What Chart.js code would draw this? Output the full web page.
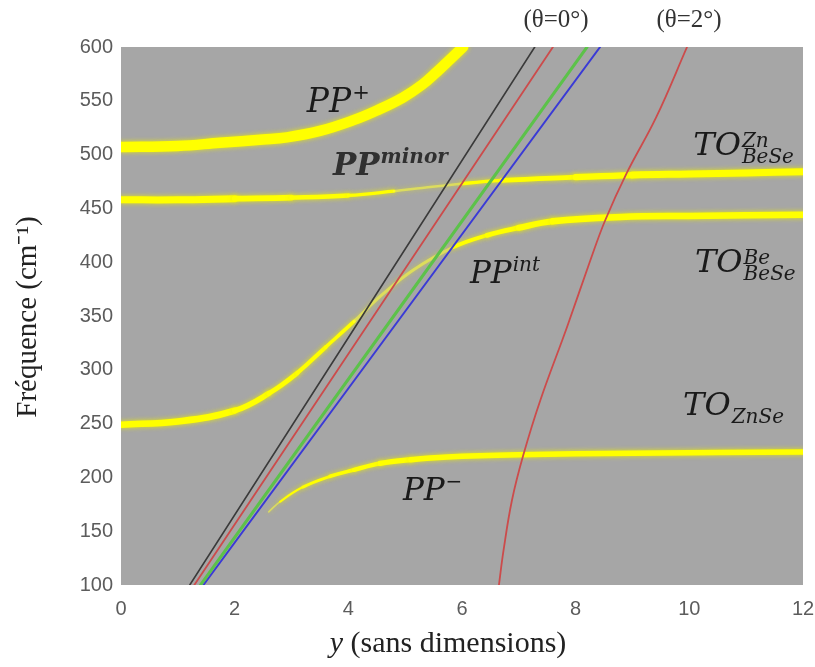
<!DOCTYPE html>
<html>
<head>
<meta charset="utf-8">
<script src="https://cdn.jsdelivr.net/npm/chart.js@4.4.0/dist/chart.umd.min.js"></script>
<style>
html,body{margin:0;padding:0;background:#fff;}
#wrap{position:relative;width:815px;height:667px;}
</style>
</head>
<body>
<div id="wrap"><canvas id="c" width="815" height="667"></canvas></div>
<script>
// ---- data ----
const xTicks = [0, 2, 4, 6, 8, 10, 12];
const yTicks = [100, 150, 200, 250, 300, 350, 400, 450, 500, 550, 600];

// yellow branches
const ppPlusX = [0, 1, 1.74, 2.5, 2.92, 3.5, 4.09, 4.5, 4.96, 5.3, 5.56, 5.8, 6.02];
const ppPlusY = [507, 508, 511, 514, 516, 522, 532, 541, 553, 565, 577, 589, 600];

const toZnX = [0, 1, 2, 3, 4, 4.8, 5.3, 6, 6.7, 8, 9, 10, 11, 12];
const toZnY = [458, 458, 459, 460, 462, 466, 469, 473, 476, 479, 481, 482, 483, 484];

const ppIntX = [0, 1, 2, 2.6, 3.1, 3.6, 4.1, 4.6, 5.15, 5.85, 6.44, 7, 7.6, 8.8, 10, 12];
const ppIntY = [249, 252, 262, 278, 297, 321, 345, 370, 393, 414, 425, 432, 438, 442, 443, 444];

const ppMinusX = [2.6, 2.8, 3.2, 3.68, 4.1, 4.56, 5.1, 5.74, 7, 9, 12];
const ppMinusY = [168, 177.5, 191, 201, 207, 213, 216.5, 219, 221, 222.5, 223.5];

// straight light lines (theta = 0)
const lineYs = [100, 600];
const blackX = [1.21, 7.28];
const redX = [1.29, 7.6];
const greenX = [1.40, 8.2];
const blueX = [1.45, 8.43];

// theta = 2 deg curve
const th2X = [6.65, 6.73, 6.88, 7.08, 7.38, 7.85, 8.26, 8.52, 8.9, 9.42, 9.96];
const th2Y = [100, 132, 179, 221, 272, 340, 402, 439, 483, 535, 600];

function pts(xs, ys) { return xs.map((x, i) => ({ x: x, y: ys[i] })); }

// ---- styles ----
const YEL = '#ffff00';
const YEL_FAINT = 'rgba(255,255,60,0.55)';
function mid(ctx) { return (ctx.p0.parsed.x + ctx.p1.parsed.x) / 2; }
function ramp(m, a, b, wa, wb) { if (m <= a) return wa; if (m >= b) return wb; return wa + (wb - wa) * (m - a) / (b - a); }

const datasets = [
  { data: pts(blackX, lineYs), borderColor: '#3a3a3a', borderWidth: 1.6 },
  { data: pts(redX, lineYs), borderColor: '#cc4b4b', borderWidth: 1.8 },
  { data: pts(greenX, lineYs), borderColor: '#5cc24a', borderWidth: 3 },
  { data: pts(blueX, lineYs), borderColor: '#3a3ad6', borderWidth: 2 },
  { data: pts(th2X, th2Y), borderColor: '#cc4b4b', borderWidth: 1.8 },
  { data: pts(ppPlusX, ppPlusY), borderColor: YEL, borderWidth: 10.5, glow: true },
  { data: pts(toZnX, toZnY), borderColor: YEL, glow: true,
    segment: {
      borderWidth: c => { const m = mid(c); return m < 5.5 ? ramp(m, 1.5, 5, 7, 2.5) : ramp(m, 5.8, 9, 2.5, 7); },
      borderColor: c => { const m = mid(c); return (m > 4.6 && m < 6.0) ? YEL_FAINT : YEL; }
    } },
  { data: pts(ppIntX, ppIntY), borderColor: YEL, glow: true,
    segment: {
      borderWidth: c => { const m = mid(c); return m < 5 ? ramp(m, 1.5, 4.3, 6.5, 3) : ramp(m, 5.8, 7.5, 3, 6.5); },
      borderColor: c => { const m = mid(c); return (m > 4.3 && m < 5.8) ? YEL_FAINT : YEL; }
    } },
  { data: pts(ppMinusX, ppMinusY), borderColor: YEL, glow: true,
    segment: {
      borderWidth: c => ramp(mid(c), 2.6, 5, 1.5, 5.5),
      borderColor: c => { const m = mid(c); return m < 3 ? YEL_FAINT : YEL; }
    } }
];
datasets.forEach(d => { d.pointRadius = 0; d.fill = false; d.tension = 0.4; d.borderCapStyle = 'round'; d.borderJoinStyle = 'round'; });

// ---- labels (text drawn inside plot, anchored on data coords) ----
const plotLabels = [
  { x: 3.27, y: 539.6, main: 'PP', sup: '+', size: 33 },
  { x: 3.73, y: 481, main: 'PP', sup: 'minor', size: 31, bold: true, color: '#303030' },
  { x: 10.07, y: 499.6, main: 'TO', sup: 'Zn', sub: 'BeSe', size: 32 },
  { x: 6.14, y: 380.7, main: 'PP', sup: 'int', size: 31 },
  { x: 10.1, y: 391, main: 'TO', sup: 'Be', sub: 'BeSe', size: 32 },
  { x: 9.89, y: 258, main: 'TO', sub: 'ZnSe', size: 32 },
  { x: 4.96, y: 179, main: 'PP', sup: '\u2212', size: 31 }
];

const bgPlugin = {
  id: 'bg',
  beforeDatasetsDraw(chart) {
    const a = chart.chartArea, ctx = chart.ctx;
    ctx.save();
    ctx.fillStyle = '#a6a6a6';
    ctx.fillRect(a.left, a.top, a.right - a.left, a.bottom - a.top);
    ctx.restore();
  },
  beforeDatasetDraw(chart, args) {
    const ds = chart.data.datasets[args.index];
    if (ds.glow) {
      chart.ctx.save();
      chart.ctx.shadowColor = 'rgba(235,235,0,0.9)';
      chart.ctx.shadowBlur = 5;
    }
  },
  afterDatasetDraw(chart, args) {
    const ds = chart.data.datasets[args.index];
    if (ds.glow) chart.ctx.restore();
  }
};

const textPlugin = {
  id: 'texts',
  afterDraw(chart) {
    const ctx = chart.ctx, xs = chart.scales.x, ys = chart.scales.y;
    const serif = '"DejaVu Serif", serif';
    ctx.save();
    ctx.textBaseline = 'alphabetic';
    ctx.textAlign = 'left';
    plotLabels.forEach(L => {
      const px = xs.getPixelForValue(L.x), py = ys.getPixelForValue(L.y);
      const w8 = L.bold ? 'bold ' : '';
      ctx.fillStyle = L.color || '#1a1a1a';
      ctx.font = 'italic ' + w8 + L.size + 'px ' + serif;
      ctx.fillText(L.main, px, py);
      const mw = ctx.measureText(L.main).width;
      const small = Math.round(L.size * 0.64);
      ctx.font = 'italic ' + w8 + small + 'px ' + serif;
      if (L.sup) ctx.fillText(L.sup, px + mw + 1, py - (L.sub ? L.size * 0.26 : L.size * 0.4));
      if (L.sub) ctx.fillText(L.sub, px + mw + 1, py + L.size * 0.26);
    });
    // theta labels above the plot
    ctx.fillStyle = '#333333';
    ctx.font = '25px "Liberation Serif", serif';
    ctx.textAlign = 'center';
    ctx.textBaseline = 'middle';
    ctx.fillText('(\u03b8=0\u00b0)', 556, 20);
    ctx.fillText('(\u03b8=2\u00b0)', 689, 20);
    // x axis title with italic y
    ctx.fillStyle = '#222222';
    ctx.textBaseline = 'alphabetic';
    ctx.textAlign = 'left';
    const f1 = 'italic 30px "Liberation Serif", serif', f2 = '30px "Liberation Serif", serif';
    ctx.font = f1; const wy = ctx.measureText('y').width;
    ctx.font = f2; const wr = ctx.measureText(' (sans dimensions)').width;
    let sx = 448 - (wy + wr) / 2;
    ctx.font = f1; ctx.fillText('y', sx, 652);
    ctx.font = f2; ctx.fillText(' (sans dimensions)', sx + wy, 652);
    // y axis title
    ctx.save();
    ctx.translate(36, 317);
    ctx.rotate(-Math.PI / 2);
    ctx.textAlign = 'center';
    ctx.font = '29px "Liberation Serif", serif';
    ctx.fillText('Fr\u00e9quence (cm\u207b\u00b9)', 0, 0);
    ctx.restore();
    ctx.restore();
  }
};

new Chart(document.getElementById('c'), {
  type: 'line',
  data: { datasets: datasets },
  options: {
    responsive: false,
    animation: false,
    events: [],
    layout: { padding: { top: 47, right: 0, left: 0, bottom: 0 } },
    plugins: { legend: { display: false }, tooltip: { enabled: false } },
    scales: {
      x: {
        type: 'linear', min: 0, max: 12,
        afterBuildTicks: s => { s.ticks = xTicks.map(v => ({ value: v })); },
        afterFit: s => { s.height = 82; s.paddingRight = 12; s.paddingLeft = 0; },
        grid: { display: false, drawTicks: false },
        border: { display: false },
        ticks: { padding: 12, color: '#5c5c5c', font: { family: '"Liberation Sans", Arial, sans-serif', size: 20 }, maxRotation: 0 }
      },
      y: {
        type: 'linear', min: 100, max: 600,
        afterBuildTicks: s => { s.ticks = yTicks.map(v => ({ value: v })); },
        afterFit: s => { s.width = 121; s.paddingTop = 0; s.paddingBottom = 0; },
        grid: { display: false, drawTicks: false },
        border: { display: false },
        ticks: { padding: 8, color: '#5c5c5c', font: { family: '"Liberation Sans", Arial, sans-serif', size: 20 } }
      }
    }
  },
  plugins: [bgPlugin, textPlugin]
});
</script>
</body>
</html>
